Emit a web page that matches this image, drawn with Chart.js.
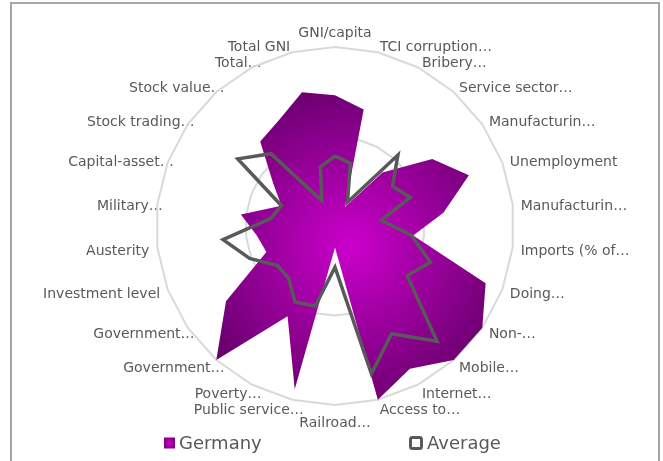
<!DOCTYPE html>
<html><head><meta charset="utf-8">
<script src="https://cdn.jsdelivr.net/npm/chart.js@4.4.1/dist/chart.umd.min.js"></script>
<style>
html,body{margin:0;padding:0;background:#fff;}
body{width:663px;height:461px;overflow:hidden;position:relative;}
#frame{position:absolute;left:10px;top:2px;width:650px;height:520px;box-sizing:border-box;border:2px solid #a6a6a6;}
#c{position:absolute;left:0;top:0;}
</style></head><body>
<div id="frame"></div>
<canvas id="c" width="663" height="461"></canvas>
<script>
const categories = [
  'GNI/capita', 'TCI corruption…', 'Bribery…', 'Service sector…', 'Manufacturin…',
  'Unemployment', 'Manufacturin…', 'Imports (% of…', 'Doing…', 'Non-…',
  'Mobile…', 'Internet…', 'Access to…', 'Railroad…', 'Public service…',
  'Poverty…', 'Government…', 'Government…', 'Investment level', 'Austerity',
  'Military…', 'Capital-asset…', 'Stock trading…', 'Stock value…', 'Total…', 'Total GNI'
];
const seriesNames = ['Germany', 'Average'];
const germany = [0.73, 0.67, 0.12, 0.40, 0.66, 0.80, 0.61, 0.44, 0.90, 1.00,
                 1.00, 0.90, 1.00, 0.12, 0.94, 0.57, 1.00, 0.74, 0.41, 0.44,
                 0.53, 0.32, 0.42, 0.63, 0.67, 0.77];
const average = [0.39, 0.36, 0.15, 0.53, 0.39, 0.45, 0.26, 0.43, 0.57, 0.49,
                 0.86, 0.68, 0.85, 0.23, 0.46, 0.48, 0.39, 0.39, 0.51, 0.63,
                 0.36, 0.32, 0.66, 0.54, 0.16, 0.34];
const scaleTicks = { min: 0, max: 1, step: 0.5 };

const TEXT = '#595959';
const FONT = '"DejaVu Sans", sans-serif';

function germanyFill(ctx) {
  const chart = ctx.chart;
  const s = chart.scales && chart.scales.r;
  if (!s || s.xCenter === undefined) return '#990099';
  let x0 = Infinity, x1 = -Infinity, y0 = Infinity, y1 = -Infinity;
  germany.forEach((v, i) => {
    const p = s.getPointPositionForValue(i, v);
    x0 = Math.min(x0, p.x); x1 = Math.max(x1, p.x);
    y0 = Math.min(y0, p.y); y1 = Math.max(y1, p.y);
  });
  const cx = (x0 + x1) / 2, cy = (y0 + y1) / 2;
  const g = chart.ctx.createRadialGradient(cx, cy, 0, cx, cy, 165);
  g.addColorStop(0, '#cc00cc');
  g.addColorStop(1, '#6a006e');
  return g;
}

// Excel leaves extra room after truncated labels on the left half,
// and sits its labels a little lower than Chart.js does
const labelShiftPlugin = {
  id: 'labelShift',
  afterLayout(chart) {
    const s = chart.scales.r;
    (s._pointLabelItems || []).forEach((it, i) => {
      if (it.textAlign === 'right' && categories[i].endsWith('…')) {
        it.x += 13.5; it.left += 13.5; it.right += 13.5;
      }
      it.y += 2.5; it.top += 2.5; it.bottom += 2.5;
    });
  }
};

const legendPlugin = {
  id: 'bottomLegend',
  afterDraw(chart) {
    const c = chart.ctx, s = chart.scales.r;
    const y = chart.chartArea.bottom + 22;
    c.save();
    c.font = '18px ' + FONT;
    c.textBaseline = 'middle';
    c.textAlign = 'left';
    const gx = s.xCenter - 171;
    const g = c.createRadialGradient(gx + 5.5, y, 0, gx + 5.5, y, 8);
    g.addColorStop(0, '#cc00cc'); g.addColorStop(1, '#6a006e');
    c.fillStyle = g;
    c.fillRect(gx, y - 5.5, 11, 11);
    c.fillStyle = TEXT;
    c.fillText(seriesNames[0], gx + 15, y + 1);
    const ax = s.xCenter + 74;
    c.strokeStyle = TEXT; c.lineWidth = 3;
    c.beginPath();
    if (c.roundRect) c.roundRect(ax + 1.5, y - 5.5, 11, 11, 2); else c.rect(ax + 1.5, y - 5.5, 11, 11);
    c.stroke();
    c.fillText(seriesNames[1], ax + 18, y + 1);
    c.restore();
  }
};

new Chart(document.getElementById('c'), {
  type: 'radar',
  data: {
    labels: categories,
    datasets: [
      { label: seriesNames[0], data: germany, order: 1, fill: 'origin',
        backgroundColor: germanyFill, borderWidth: 0, pointRadius: 0, pointHoverRadius: 0 },
      { label: seriesNames[1], data: average, order: 0, fill: false,
        borderColor: TEXT, backgroundColor: 'rgba(0,0,0,0)', borderWidth: 3.5,
        borderJoinStyle: 'miter', pointRadius: 0, pointHoverRadius: 0 }
    ]
  },
  options: {
    responsive: false,
    animation: false,
    devicePixelRatio: 1,
    layout: { padding: { left: 20, right: 13, top: 31, bottom: 40 } },
    plugins: { legend: { display: false }, tooltip: { enabled: false } },
    elements: { line: { tension: 0 } },
    scales: {
      r: {
        min: scaleTicks.min, max: scaleTicks.max,
        ticks: { display: false, stepSize: scaleTicks.step },
        grid: { color: '#d9d9d9', lineWidth: 2 },
        angleLines: { display: false },
        pointLabels: {
          color: TEXT,
          font: { family: FONT, size: 14, lineHeight: 0 },
          padding: (ctx) => (ctx.index === 0 || ctx.index === categories.length / 2) ? 16 : 8
        }
      }
    }
  },
  plugins: [labelShiftPlugin, legendPlugin]
});
</script>
</body></html>
